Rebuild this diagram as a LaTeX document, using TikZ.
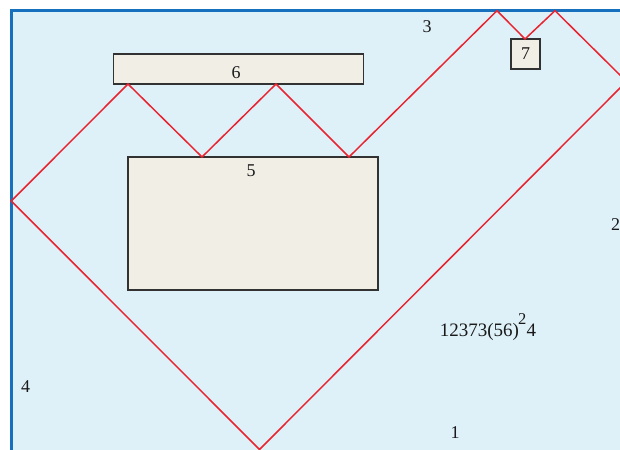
\documentclass[tikz,border=0pt]{standalone}
\usepackage{fontspec}
\setmainfont{Liberation Serif}
\definecolor{bgblue}{RGB}{222,240,248}
\definecolor{wallblue}{RGB}{22,112,190}
\definecolor{boxfill}{RGB}{241,238,230}
\definecolor{boxline}{RGB}{50,50,50}
\definecolor{raylred}{RGB}{232,36,48}
\definecolor{txt}{RGB}{25,25,25}
\begin{document}
\begin{tikzpicture}[x=1pt,y=-1pt,
  obstacle/.style={draw=boxline,fill=boxfill,line width=1.7pt,inner sep=0pt,outer sep=0pt,rectangle},
  lbl/.style={text=txt,font=\fontsize{18}{20}\selectfont,inner sep=0pt},
  ray/.style={draw=raylred,line width=1.5pt,line join=miter}]
\useasboundingbox (0,0) rectangle (620,449);
\clip (0,0) rectangle (620,449);
\fill[white] (0,0) rectangle (620,449);
% table
\fill[bgblue] (11.3,10.7) rectangle (627,452);
\draw[wallblue,line width=3pt] (11.3,10.7) rectangle (627,452);
% obstacles
\node[obstacle,minimum width=250pt,minimum height=30pt,anchor=north west] (b6) at (113.5,54) {};
\node[obstacle,minimum width=250pt,minimum height=133pt,anchor=north west] (b5) at (128,157) {};
\node[obstacle,minimum width=29pt,minimum height=30pt,anchor=north west] (b7) at (511,39) {};
\node[lbl] (t6) at (236,73) {6};
\node[lbl] (t5) at (251,171) {5};
\node[lbl] (t7) at (b7.center) {7};
% bounce points
\coordinate (p0) at (11.3,201);
\coordinate (p1) at (128,84);
\coordinate (p2) at (202,157);
\coordinate (p3) at (276,84);
\coordinate (p4) at (349,157);
\coordinate (p5) at (497,10.7);
\coordinate (p6) at (525,39);
\coordinate (p7) at (555,10.7);
\coordinate (p8) at (626.5,81.5);
\coordinate (p9) at (259.5,449.5);
\draw[ray] (p0) -- (p1) -- (p2) -- (p3) -- (p4) -- (p5) -- (p6) -- (p7) -- (p8) -- (p9) -- cycle;
% wall labels
\node[lbl] (w1) at (455,433) {1};
\node[lbl] (w2) at (615.5,225) {2};
\node[lbl] (w3) at (427,27) {3};
\node[lbl] (w4) at (25.5,387) {4};
\node[lbl,font=\fontsize{19}{21}\selectfont] (code) at (488,327) {12373(56)\kern-0.8pt\raisebox{0.62em}{\fontsize{16.5}{18}\selectfont 2}\kern0.3pt 4};
\end{tikzpicture}
\end{document}
